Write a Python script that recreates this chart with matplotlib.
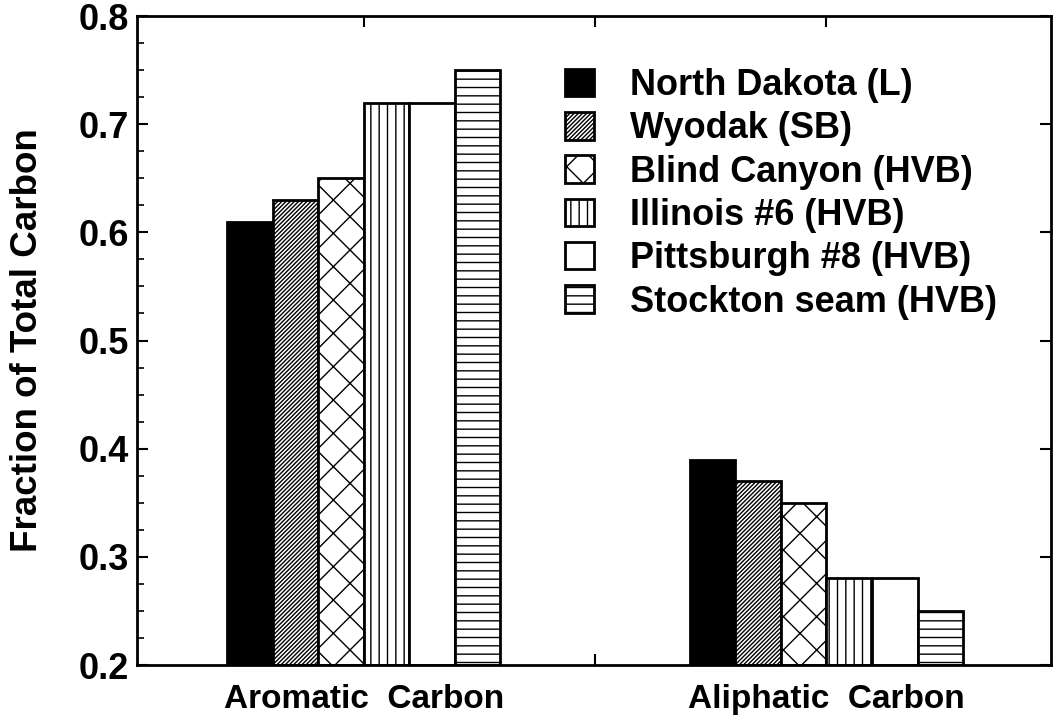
import matplotlib
matplotlib.use("Agg")
import matplotlib.pyplot as plt
import numpy as np

groups = ["Aromatic  Carbon", "Aliphatic  Carbon"]
coals = [
    "North Dakota (L)",
    "Wyodak (SB)",
    "Blind Canyon (HVB)",
    "Illinois #6 (HVB)",
    "Pittsburgh #8 (HVB)",
    "Stockton seam (HVB)",
]
aromatic = [0.61, 0.63, 0.65, 0.72, 0.72, 0.75]
aliphatic = [0.39, 0.37, 0.35, 0.28, 0.28, 0.25]

# fill styles for each coal, black and white like the printed figure
faces = ["black", "white", "white", "white", "white", "white"]
hatches = [None, "////////", "x", "||", None, "--"]

plt.rcParams["font.family"] = ["Liberation Sans", "DejaVu Sans"]
plt.rcParams["font.weight"] = "bold"
plt.rcParams["hatch.linewidth"] = 1.0

fig = plt.figure(figsize=(10.54, 7.23), dpi=100)
ax = fig.add_axes([0.130, 0.0802, 0.867, 0.8976])

centers = np.array([1.0, 3.0])
width = 0.197
for i, name in enumerate(coals):
    vals = [aromatic[i], aliphatic[i]]
    x = centers + (i - 2.5) * width
    ax.bar(x, np.array(vals) - 0.2, width, bottom=0.2, color=faces[i],
           edgecolor="black", linewidth=2.0, hatch=hatches[i], label=name)

ax.set_xlim(0.02, 3.97)
ax.set_ylim(0.2, 0.8)
ax.set_yticks([0.2, 0.3, 0.4, 0.5, 0.6, 0.7, 0.8])
ax.set_yticks(np.arange(0.2, 0.8001, 0.025), minor=True)
ax.set_xticks([1, 2, 3])
ax.set_xticklabels([groups[0], "", groups[1]],
                   family=["Liberation Sans Narrow", "Liberation Sans", "DejaVu Sans"],
                   fontsize=24, fontweight="bold")
ax.tick_params(axis="y", which="major", direction="in", length=8, width=1.5,
               labelsize=26, pad=6, right=True)
ax.tick_params(axis="y", which="minor", direction="in", length=5, width=1.2)
ax.tick_params(axis="x", which="major", direction="in", length=8, width=1.5,
               top=True, pad=14)
for sp in ax.spines.values():
    sp.set_linewidth(2.0)

ax.set_ylabel("Fraction of Total Carbon", fontsize=26.5, fontweight="bold", labelpad=24)

ax.legend(loc="upper left", bbox_to_anchor=(565 / 1054, 1 - 68 / 723),
          bbox_transform=fig.transFigure, frameon=False, fontsize=26,
          handlelength=0.8, handleheight=0.8, handletextpad=1.0,
          labelspacing=0.23, borderpad=0, borderaxespad=0)

fig.savefig("out.png", dpi=100)
